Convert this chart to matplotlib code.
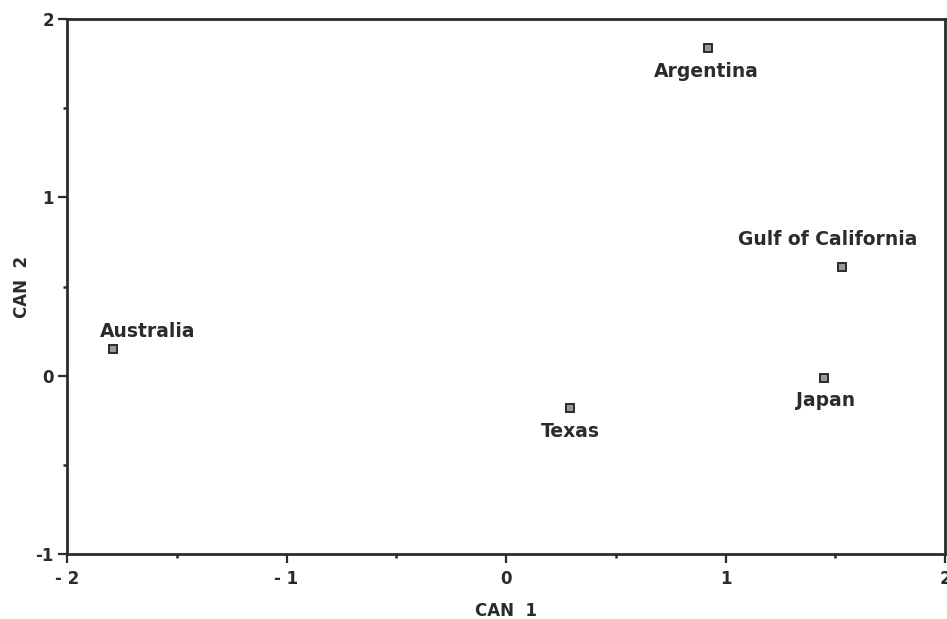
import numpy as np
import matplotlib
matplotlib.use("Agg")
import matplotlib.pyplot as plt
from matplotlib.ticker import MultipleLocator, FixedLocator

# canonical scores
regions = ["Argentina", "Gulf of California", "Japan", "Texas", "Australia"]
can1 = [0.92, 1.53, 1.45, 0.29, -1.79]
can2 = [1.84, 0.61, -0.015, -0.18, 0.15]

xticks = [-2, -1, 0, 1, 2]
xticklabels = ["- 2", "- 1", "0", "1", "2"]
yticks = [-1, 0, 1, 2]
yticklabels = ["-1", "0", "1", "2"]

# label placement (pixel offsets from marker, alignment)
label_pos = {
    "Argentina": ((-2, -29), "center"),
    "Gulf of California": ((-14, 22), "center"),
    "Japan": ((1, -28), "center"),
    "Texas": ((1, -29), "center"),
    "Australia": ((-13, 12), "left"),
}

plt.rcParams['font.family'] = ['DejaVu Sans']
ink = '#2b2b2b'

fig = plt.figure(figsize=(9.47, 6.19), dpi=100)
ax = fig.add_axes([0.0708, 0.105, 0.9271, 0.8643])

ax.plot(can1, can2, 's', ms=5.5, mfc='#9a9a9a', mec=ink, mew=1.4, ls='none')

for name, x, y in zip(regions, can1, can2):
    off, ha = label_pos[name]
    ax.annotate(name, (x, y), xytext=off, textcoords='offset pixels',
                ha=ha, va='baseline', fontsize=13.5, fontweight='bold', color=ink)

ax.set_xlim(-2, 2)
ax.set_ylim(-1, 2)
ax.xaxis.set_major_locator(FixedLocator(xticks))
ax.yaxis.set_major_locator(FixedLocator(yticks))
ax.set_xticklabels(xticklabels, fontweight='bold')
ax.set_yticklabels(yticklabels, fontweight='bold')
ax.xaxis.set_minor_locator(MultipleLocator(0.5))
ax.yaxis.set_minor_locator(MultipleLocator(0.5))

for s in ax.spines.values():
    s.set_linewidth(2.0)
    s.set_color(ink)

ax.tick_params(which='major', direction='out', length=6.5, width=1.6, color=ink,
               labelsize=12, labelcolor=ink, pad=5)
ax.tick_params(which='minor', direction='out', length=3, width=1.8, color=ink)
ax.tick_params(axis='y', which='major', pad=3)

ax.set_xlabel('CAN  1', fontsize=12, fontweight='bold', color=ink, labelpad=10)
ax.set_ylabel('CAN  2', fontsize=12, fontweight='bold', color=ink, labelpad=3)

fig.savefig('out.png', dpi=100)
